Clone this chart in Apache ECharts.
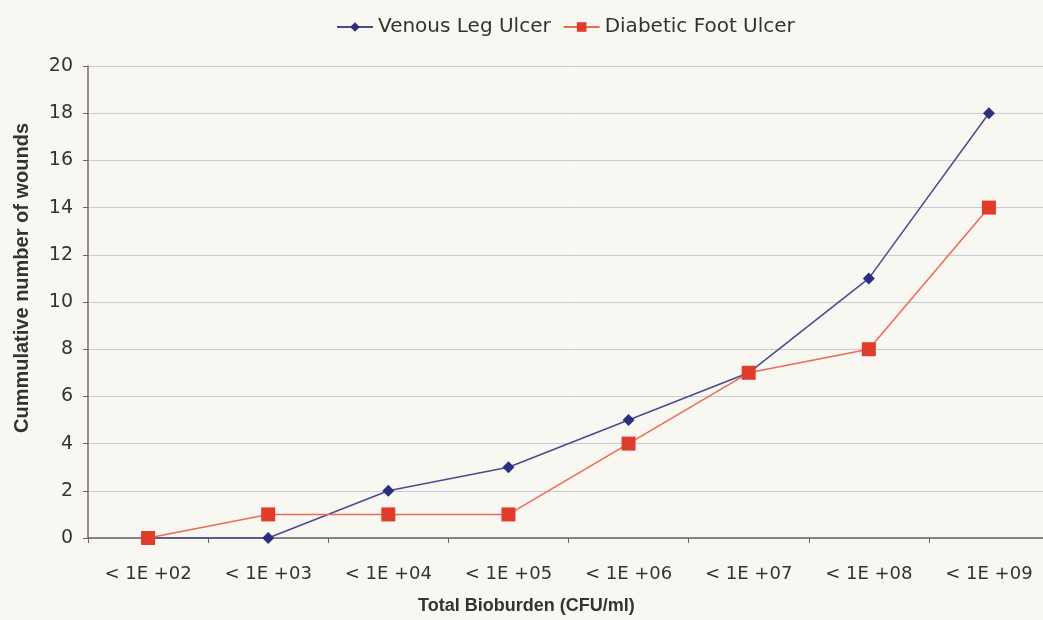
<!DOCTYPE html>
<html><head><meta charset="utf-8">
<script src="https://cdn.jsdelivr.net/npm/echarts@6/dist/echarts.min.js"></script>
<style>html,body{margin:0;padding:0;background:#f8f7f2;overflow:hidden;}#c{width:1050px;height:620px;}</style>
</head><body><div id="c"></div>
<script>
const categories = ['< 1E +02','< 1E +03','< 1E +04','< 1E +05','< 1E +06','< 1E +07','< 1E +08','< 1E +09'];
const venous = [0,0,2,3,5,7,11,18];
const diabetic = [0,1,1,1,4,7,8,14];
const yTicks = {min:0, max:20, interval:2};
const chart = echarts.init(document.getElementById('c'));
const font = 'DejaVu Sans, sans-serif';
const bfont = 'Liberation Sans, Arial, sans-serif';
chart.setOption({
  backgroundColor:'#f8f7f2',
  animation:false,
  legend:{top:12,left:331,itemWidth:36,itemHeight:12,itemGap:12,
    textStyle:{fontFamily:font,fontSize:20,color:'#333'},
    data:['Venous Leg Ulcer','Diabetic Foot Ulcer']},
  graphic:[
    {type:'text',left:418,top:597,style:{text:'Total Bioburden (CFU/ml)',font:'bold 18px '+bfont,fill:'#333'}},
    {type:'text',x:22,y:278,rotation:Math.PI/2,style:{text:'Cummulative number of wounds',font:'bold 20px '+bfont,fill:'#333',align:'center',verticalAlign:'middle'}}
  ],
  grid:{left:88,top:66,width:961,height:472},
  xAxis:{type:'category',data:categories,boundaryGap:true,
    axisLine:{lineStyle:{color:'#666',width:1.5}},
    axisTick:{show:true,length:5,lineStyle:{color:'#666'}},
    axisLabel:{fontFamily:font,fontSize:18,color:'#333',margin:27}},
  yAxis:{type:'value',min:yTicks.min,max:yTicks.max,interval:yTicks.interval,
    axisLine:{show:true,lineStyle:{color:'#7a6a6a',width:1.5}},
    axisTick:{show:true,length:5,lineStyle:{color:'#666'}},
    axisLabel:{fontFamily:font,fontSize:19,color:'#333',margin:15},
    splitLine:{lineStyle:{color:'#c9cad8',width:1}}},
  series:[
    {name:'Venous Leg Ulcer',type:'line',data:venous,symbol:'diamond',symbolSize:12,
     lineStyle:{color:'#4a4a90',width:1.5},itemStyle:{color:'#2e2e80'},z:3},
    {name:'Diabetic Foot Ulcer',type:'line',data:diabetic,symbol:'rect',symbolSize:14,
     lineStyle:{color:'#ee6a55',width:1.5},itemStyle:{color:'#e03c2c'},z:4}
  ]
});
</script></body></html>
